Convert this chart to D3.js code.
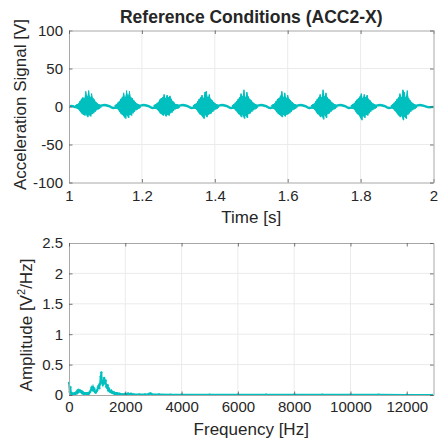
<!DOCTYPE html>
<html>
<head>
<meta charset="utf-8">
<script src="https://cdn.jsdelivr.net/npm/d3@7"></script>
<style>
body { margin: 0; background: #fff; }
svg text { font-family: "Liberation Sans", Arial, sans-serif; fill: #262626; }
</style>
</head>
<body>
<div id="chart"></div>
<script>
// ---- values ----
var timeTicks = [1, 1.2, 1.4, 1.6, 1.8, 2];
var accTicks = [-100, -50, 0, 50, 100];
var freqTicks = [0, 2000, 4000, 6000, 8000, 10000, 12000];
var ampTicks = [0, 0.5, 1, 1.5, 2, 2.5];

// impact bursts in the time signal: centre time and envelope (max / min) around it
var burstCenters = [1.052, 1.160, 1.267, 1.375, 1.482, 1.590, 1.699, 1.808, 1.918];
var burstOffsets = [-0.034, -0.030, -0.026, -0.022, -0.018, -0.014, -0.010, -0.006, -0.002,
	0.002, 0.006, 0.010, 0.014, 0.018, 0.022, 0.026, 0.030, 0.034];
var burstHi = [
	[2, 3, 4, 7, 10, 12, 11, 20, 13, 21, 12, 17, 11, 9, 6, 4, 3, 2],
	[2, 3, 5, 7, 10, 12, 18, 12, 21, 14, 20, 12, 11, 8, 6, 4, 3, 2],
	[2, 3, 4, 6, 9, 11, 12, 16, 11, 15, 12, 14, 10, 7, 5, 3, 3, 2],
	[2, 3, 4, 7, 10, 12, 15, 11, 19, 20, 12, 16, 10, 8, 6, 4, 3, 2],
	[2, 3, 5, 7, 10, 12, 17, 13, 22, 12, 19, 13, 10, 8, 6, 4, 3, 2],
	[2, 3, 4, 7, 10, 11, 14, 20, 12, 18, 11, 15, 10, 8, 6, 4, 3, 2],
	[2, 3, 4, 7, 10, 12, 16, 12, 22, 13, 18, 12, 10, 8, 6, 4, 3, 2],
	[2, 3, 4, 7, 9, 11, 13, 17, 11, 16, 12, 15, 10, 8, 6, 4, 3, 2],
	[2, 3, 5, 7, 10, 12, 17, 12, 22, 19, 12, 21, 11, 8, 6, 4, 3, 2]
];
var burstLo = [
	[-2, -3, -4, -7, -9, -11, -12, -10, -14, -11, -13, -10, -9, -7, -5, -4, -3, -2],
	[-2, -3, -4, -7, -10, -11, -13, -16, -11, -15, -11, -12, -9, -7, -5, -4, -3, -2],
	[-2, -3, -4, -6, -9, -10, -12, -10, -13, -11, -12, -9, -8, -6, -4, -3, -3, -2],
	[-2, -3, -4, -7, -10, -11, -13, -16, -11, -14, -11, -10, -9, -7, -5, -4, -3, -2],
	[-2, -3, -5, -7, -10, -11, -14, -11, -16, -12, -15, -10, -9, -7, -5, -4, -3, -2],
	[-2, -3, -4, -7, -9, -11, -12, -14, -11, -13, -11, -10, -9, -7, -5, -4, -3, -2],
	[-2, -3, -4, -7, -10, -11, -14, -12, -17, -11, -15, -10, -9, -7, -5, -4, -3, -2],
	[-2, -3, -4, -7, -10, -11, -14, -18, -12, -15, -11, -12, -9, -7, -5, -4, -3, -2],
	[-2, -3, -5, -7, -10, -12, -14, -12, -18, -13, -16, -11, -9, -7, -5, -4, -3, -2]
];

// slow wave between the bursts
var baseT = [1.000, 1.008, 1.016, 1.052,
	1.086, 1.097, 1.110, 1.122, 1.132, 1.160,
	1.194, 1.205, 1.218, 1.230, 1.240, 1.267,
	1.301, 1.312, 1.325, 1.337, 1.347, 1.375,
	1.409, 1.420, 1.433, 1.445, 1.455, 1.482,
	1.516, 1.527, 1.540, 1.552, 1.562, 1.590,
	1.624, 1.635, 1.648, 1.660, 1.670, 1.699,
	1.733, 1.744, 1.757, 1.769, 1.779, 1.808,
	1.842, 1.853, 1.866, 1.878, 1.888, 1.918,
	1.952, 1.963, 1.976, 1.988, 2.000];
var baseV = [0.5, 0.8, -0.5, 0,
	1, 2, 0.5, -2, -1, 0,
	1, 2, 0.5, -2, -1, 0,
	1, 2, 0.5, -2, -1, 0,
	1, 2, 0.5, -2, -1, 0,
	1, 2, 0.5, -2, -1, 0,
	1, 2, 0.5, -2, -1, 0,
	1, 2, 0.5, -2, -1, 0,
	1, 2, 0.5, -2, -1, 0,
	1, 2, 0.5, -1, -0.5];

// spectrum
var freqHz = [0, 25, 50, 75, 100, 125, 150, 175, 200, 225, 250, 275, 300, 325, 350, 375,
	400, 425, 450, 475, 500, 525, 550, 575, 600, 625, 650, 675, 700, 725, 750, 775,
	800, 825, 850, 875, 900, 925, 950, 975, 1000, 1025, 1050, 1075, 1100, 1125, 1150, 1175,
	1200, 1225, 1250, 1275, 1300, 1325, 1350, 1375, 1400, 1425, 1450, 1475, 1500, 1525, 1550, 1575,
	1600, 1625, 1650, 1675, 1700, 1725, 1750, 1775, 1800,
	1900, 2000, 2050, 2100, 2150, 2200, 2300, 2500, 2700, 2850, 2900, 2950, 3200, 3600,
	4000, 5000, 6000, 7000, 8000, 9000, 10000, 11000, 12000, 12900];
var ampV2 = [0.20, 0.05, 0.13, 0.02, 0.03, 0.01, 0.02, 0.01, 0.03, 0.02, 0.04, 0.03, 0.07, 0.05, 0.08, 0.06,
	0.07, 0.05, 0.06, 0.03, 0.04, 0.02, 0.03, 0.02, 0.03, 0.02, 0.02, 0.03, 0.02, 0.04, 0.05, 0.08,
	0.12, 0.09, 0.13, 0.08, 0.10, 0.05, 0.04, 0.06, 0.08, 0.12, 0.15, 0.11, 0.18, 0.30, 0.37, 0.20,
	0.17, 0.22, 0.28, 0.19, 0.24, 0.14, 0.12, 0.16, 0.08, 0.10, 0.06, 0.05, 0.07, 0.04, 0.05, 0.03,
	0.04, 0.02, 0.03, 0.02, 0.03, 0.02, 0.02, 0.01, 0.02,
	0.01, 0.02, 0.01, 0.025, 0.01, 0.02, 0.01, 0.01, 0.008, 0.02, 0.025, 0.01, 0.008, 0.006,
	0.005, 0.005, 0.004, 0.004, 0.005, 0.004, 0.004, 0.004, 0.003, 0.002];

// ---- drawing ----
var W = 438, H = 441;
var sigColor = "#00bfbf";

var svg = d3.select("#chart").append("svg")
	.attr("width", W)
	.attr("height", H);

var left = 69, plotW = 364.5, plotH = 152;
var topY1 = 30.5, topY2 = 243;

function frame(g, x, y, xt, yt)
{
	g.append("g").selectAll("line").data(xt.slice(1, -1)).join("line")
		.attr("x1", d => x(d)).attr("x2", d => x(d))
		.attr("y1", 0).attr("y2", plotH)
		.attr("stroke", "#ebebeb");
	g.append("g").selectAll("line").data(yt.slice(1, -1)).join("line")
		.attr("x1", 0).attr("x2", plotW)
		.attr("y1", d => y(d)).attr("y2", d => y(d))
		.attr("stroke", "#ebebeb");
}

function axes(g, x, y, xt, yt, xpad)
{
	var ax = [
		g.append("g").attr("transform", "translate(0," + plotH + ")")
			.call(d3.axisBottom(x).tickValues(xt).tickSize(-3.5).tickSizeOuter(0).tickPadding(xpad).tickFormat(d => d)),
		g.append("g")
			.call(d3.axisLeft(y).tickValues(yt).tickSize(-3.5).tickSizeOuter(0).tickPadding(6).tickFormat(d => d)),
		g.append("g")
			.call(d3.axisTop(x).tickValues(xt).tickSize(-3.5).tickSizeOuter(0).tickFormat("")),
		g.append("g").attr("transform", "translate(" + plotW + ",0)")
			.call(d3.axisRight(y).tickValues(yt).tickSize(-3.5).tickSizeOuter(0).tickFormat(""))
	];
	ax.forEach(function(a){
		a.select(".domain").attr("stroke", "#a8a8a8");
		a.selectAll(".tick line").attr("stroke", "#555").attr("stroke-width", 0.8);
		a.selectAll("text").style("font-size", "15px").attr("fill", "#262626");
	});
}

// top: time signal
var g1 = svg.append("g").attr("transform", "translate(" + left + "," + topY1 + ")");
var xT = d3.scaleLinear().domain([1, 2]).range([0, plotW]);
var yA = d3.scaleLinear().domain([-100, 100]).range([plotH, 0]);
frame(g1, xT, yA, timeTicks, accTicks);

g1.append("path")
	.attr("d", d3.line().x((d, i) => xT(baseT[i])).y(d => yA(d)).curve(d3.curveMonotoneX)(baseV))
	.attr("fill", "none")
	.attr("stroke", sigColor)
	.attr("stroke-width", 2.5);

burstCenters.forEach(function(c, b){
	var pts = burstOffsets.map((o, j) => ({t: c + o, hi: burstHi[b][j], lo: burstLo[b][j]}));
	g1.append("path")
		.attr("d", d3.area().x(d => xT(d.t)).y0(d => yA(d.lo)).y1(d => yA(d.hi))(pts))
		.attr("fill", sigColor);
	var zig = [];
	pts.forEach(function(p){
		zig.push([p.t, p.hi]);
		zig.push([p.t + 0.002, p.lo]);
	});
	g1.append("path")
		.attr("d", d3.line().x(d => xT(d[0])).y(d => yA(d[1]))(zig))
		.attr("fill", "none")
		.attr("stroke", sigColor)
		.attr("stroke-width", 1);
});

axes(g1, xT, yA, timeTicks, accTicks, 7.5);

g1.append("text")
	.attr("x", plotW / 2).attr("y", -7.5)
	.attr("text-anchor", "middle")
	.style("font-size", "17.5px").style("font-weight", "bold")
	.attr("fill", "#000")
	.text("Reference Conditions (ACC2-X)");
g1.append("text")
	.attr("x", plotW / 2).attr("y", plotH + 40.5)
	.attr("text-anchor", "middle")
	.style("font-size", "17px")
	.text("Time [s]");
g1.append("text")
	.attr("transform", "translate(" + (26 - left) + "," + (plotH / 2 - 2) + ") rotate(-90)")
	.attr("text-anchor", "middle")
	.style("font-size", "17px")
	.text("Acceleration Signal [V]");

// bottom: spectrum
var g2 = svg.append("g").attr("transform", "translate(" + left + "," + topY2 + ")");
var xF = d3.scaleLinear().domain([0, 12950]).range([0, plotW]);
var yP = d3.scaleLinear().domain([0, 2.5]).range([plotH, 0]);
frame(g2, xF, yP, freqTicks, ampTicks);

g2.append("path")
	.attr("d", d3.line().x((d, i) => xF(freqHz[i])).y(d => yP(d))(ampV2))
	.attr("fill", "none")
	.attr("stroke", sigColor)
	.attr("stroke-width", 1.8);
g2.append("g").selectAll("circle").data(ampV2).join("circle")
	.attr("cx", (d, i) => xF(freqHz[i]))
	.attr("cy", d => yP(d))
	.attr("r", 1.2)
	.attr("fill", sigColor);

axes(g2, xF, yP, freqTicks, ampTicks, 6);

g2.append("text")
	.attr("x", plotW / 2).attr("y", plotH + 40)
	.attr("text-anchor", "middle")
	.style("font-size", "17px")
	.text("Frequency [Hz]");
var yl = g2.append("text")
	.attr("transform", "translate(" + (32 - left) + "," + (plotH / 2 + 6) + ") rotate(-90)")
	.attr("text-anchor", "middle")
	.style("font-size", "17px");
yl.append("tspan").text("Amplitude [V");
yl.append("tspan").attr("dy", -7).style("font-size", "11px").text("2");
yl.append("tspan").attr("dy", 7).text("/Hz]");
</script>
</body>
</html>
